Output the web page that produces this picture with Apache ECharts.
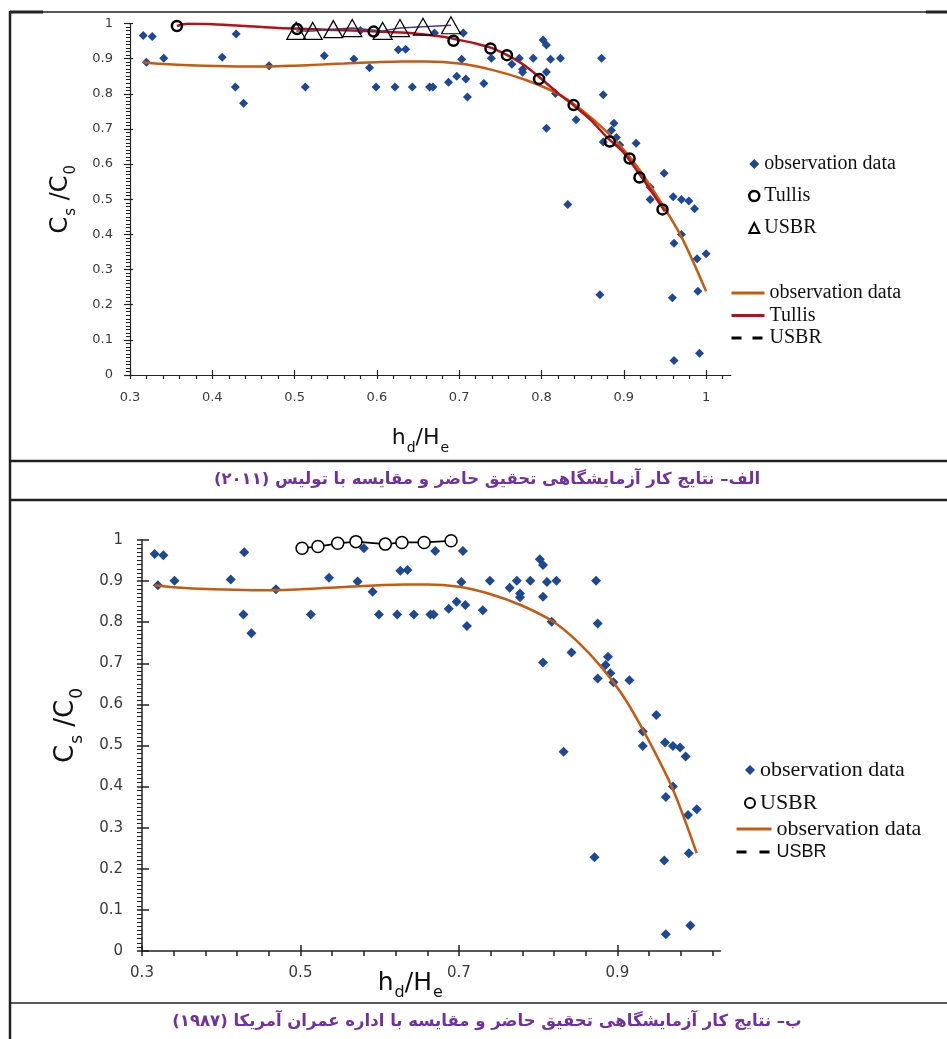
<!DOCTYPE html>
<html><head><meta charset="utf-8">
<script src="https://cdn.jsdelivr.net/npm/echarts@6/dist/echarts.min.js"></script>
<style>html,body{margin:0;padding:0;background:#fff}#c{width:947px;height:1039px}</style>
</head><body><div id="c"></div>
<script>
// ---- observation data (diamonds) ----
const obsX = [0.316,0.327,0.320,0.341,0.412,0.429,0.428,0.438,0.469,0.513,0.536,0.572,0.580,0.591,0.599,0.622,0.626,0.635,0.643,0.664,0.668,0.670,0.687,0.697,0.703,0.705,0.708,0.710,0.730,0.739,0.764,0.773,0.777,0.777,0.790,0.802,0.806,0.806,0.811,0.823,0.817,0.806,0.842,0.832,0.873,0.875,0.888,0.885,0.891,0.875,0.895,0.915,0.949,0.932,0.932,0.960,0.970,0.979,0.986,0.970,0.961,0.989,1.000,0.871,0.959,0.990,0.961,0.992];
const obsY = [0.966,0.963,0.890,0.901,0.904,0.970,0.819,0.773,0.880,0.819,0.908,0.899,0.980,0.874,0.819,0.819,0.925,0.927,0.819,0.819,0.819,0.973,0.833,0.850,0.898,0.973,0.842,0.791,0.829,0.901,0.884,0.901,0.870,0.861,0.901,0.953,0.939,0.862,0.898,0.901,0.801,0.702,0.726,0.485,0.901,0.797,0.716,0.696,0.676,0.663,0.654,0.659,0.574,0.534,0.499,0.507,0.499,0.495,0.473,0.400,0.375,0.331,0.345,0.228,0.220,0.238,0.041,0.062];
// ---- fitted curve of observation data ----
const fitX = [0.316,0.34,0.39,0.44,0.47,0.50,0.53,0.56,0.60,0.63,0.66,0.70,0.74,0.78,0.82,0.85,0.88,0.91,0.94,0.97,1.0];
const fitY = [0.890,0.885,0.880,0.878,0.878,0.880,0.883,0.886,0.890,0.892,0.892,0.886,0.868,0.840,0.800,0.752,0.690,0.612,0.510,0.393,0.238];
// ---- Tullis (2011) ----
const tullisX = [0.357,0.503,0.596,0.693,0.738,0.758,0.797,0.839,0.883,0.907,0.919,0.947];
const tullisY = [0.993,0.984,0.977,0.951,0.929,0.910,0.842,0.768,0.664,0.616,0.562,0.471];
const tullisCurveX = [0.357,0.37,0.40,0.44,0.48,0.52,0.56,0.60,0.64,0.68,0.70,0.72,0.74,0.76,0.78,0.80,0.82,0.84,0.86,0.88,0.90,0.92,0.94,0.95];
const tullisCurveY = [0.993,0.999,0.998,0.993,0.987,0.984,0.981,0.977,0.973,0.962,0.953,0.943,0.930,0.908,0.880,0.842,0.802,0.765,0.725,0.675,0.632,0.568,0.500,0.466];
// ---- USBR (1987) ----
const usbrX = [0.502,0.522,0.547,0.570,0.607,0.628,0.656,0.690];
const usbrTopY = [0.979,0.979,0.984,0.987,0.979,0.987,0.991,0.995];
const usbrBotY = [0.980,0.984,0.992,0.996,0.990,0.994,0.994,0.998];
// ---- tick labels ----
const topXLabels = [0.3,0.4,0.5,0.6,0.7,0.8,0.9,1];
const botXLabels = [0.3,0.5,0.7,0.9];
const topXTicks = []; for (let i = 0; i <= 36; i++) topXTicks.push(+(0.3 + 0.02 * i).toFixed(2));
const botXTicks = []; for (let i = 0; i <= 18; i++) botXTicks.push(+(0.3 + 0.04 * i).toFixed(2));
const legendNames = {obsTop:'observation data', tullisPts:'Tullis', usbrTri:'USBR', obsLineTop:'observation data', tullisLine:'Tullis', usbrLineTop:'USBR',
  obsBot:'observation data', usbrBotPts:'USBR', obsLineBot:'observation data', usbrLineBot:'USBR'};
const captionTop = 'الف– نتایج کار آزمایشگاهی تحقیق حاضر و مقایسه با تولیس (۲۰۱۱)';
const captionBottom = 'ب– نتایج کار آزمایشگاهی تحقیق حاضر و مقایسه با اداره عمران آمریکا (۱۹۸۷)';

const pts = (xs, ys) => xs.map((x, i) => [x, ys[i]]);
const fmt = v => String(+(+v).toFixed(2));
const AX = '#222';
const LBL = '#3a3a3a';
const FONT = 'DejaVu Sans';
const NOSYM = {color: 'rgba(0,0,0,0)', borderColor: 'rgba(0,0,0,0)', borderWidth: 0};

function richName(big, small, drop) {
  return {
    a: {fontFamily: FONT, fontSize: big, lineHeight: big + 6, color: '#111', verticalAlign: 'top'},
    b: {fontFamily: FONT, fontSize: small, lineHeight: small, color: '#111', verticalAlign: 'top', padding: [drop, 0, 0, 1]}
  };
}

const chart = echarts.init(document.getElementById('c'), null, {renderer: 'canvas'});

const option = {
  animation: false,
  backgroundColor: '#fff',
  grid: [
    {left: 130, top: 23.5, width: 600.8, height: 351.5},
    {left: 142, top: 540, width: 578.5, height: 411}
  ],
  xAxis: [
    {gridIndex: 0, type: 'value', min: 0.3, max: 1.03, position: 'bottom',
      axisLine: {onZero: false, lineStyle: {color: AX, width: 1.2}},
      axisTick: {customValues: topXTicks, length: 4, lineStyle: {color: AX, width: 1.2}},
      axisLabel: {customValues: topXLabels, formatter: fmt, fontFamily: FONT, fontSize: 13, color: LBL, margin: 16},
      splitLine: {show: false},
      name: '{a|h}{b|d}{a|/H}{b|e}', nameLocation: 'middle', nameGap: 52, nameMoveOverlap: false,
      nameTextStyle: {padding: [0, 20, 0, 0], rich: richName(22, 14, 14)}},
    {gridIndex: 0, type: 'value', min: 0.3, max: 1.03, position: 'bottom',
      axisLine: {show: false, onZero: false},
      axisTick: {customValues: topXLabels, inside: true, length: 5, lineStyle: {color: AX, width: 1.2}},
      axisLabel: {show: false}, splitLine: {show: false}},
    {gridIndex: 1, type: 'value', min: 0.3, max: 1.03, position: 'bottom',
      axisLine: {onZero: false, lineStyle: {color: AX, width: 1.5}},
      axisTick: {customValues: botXTicks, length: 5, lineStyle: {color: AX, width: 1.5}},
      axisLabel: {customValues: botXLabels, formatter: fmt, fontFamily: FONT, fontSize: 15, color: LBL, margin: 15},
      splitLine: {show: false},
      name: '{a|h}{b|d}{a|/H}{b|e}', nameLocation: 'middle', nameGap: 20, nameMoveOverlap: false,
      nameTextStyle: {padding: [0, 42, 0, 0], rich: richName(25, 16, 14)}},
    {gridIndex: 1, type: 'value', min: 0.3, max: 1.03, position: 'bottom',
      axisLine: {show: false, onZero: false},
      axisTick: {customValues: botXLabels, inside: true, length: 6, lineStyle: {color: AX, width: 1.5}},
      axisLabel: {show: false}, splitLine: {show: false}}
  ],
  yAxis: [
    {gridIndex: 0, type: 'value', min: 0, max: 1, interval: 0.1, position: 'left',
      axisLine: {show: true, onZero: false, lineStyle: {color: AX, width: 1.2}},
      axisTick: {show: true, length: 6, lineStyle: {color: AX, width: 1.2}},
      minorTick: {show: true, splitNumber: 10, length: 4, lineStyle: {color: AX, width: 1}},
      axisLabel: {formatter: fmt, fontFamily: FONT, fontSize: 13, color: LBL, margin: 17},
      splitLine: {show: false},
      name: '{a|C}{b|s}{a| /C}{b|0}', nameLocation: 'middle', nameRotate: 90, nameGap: 51, nameMoveOverlap: false,
      nameTextStyle: {rich: richName(24, 15, 15)}},
    {gridIndex: 0, type: 'value', min: 0, max: 1, interval: 0.1, position: 'left',
      axisLine: {show: false, onZero: false},
      axisTick: {show: true, inside: true, length: 3, lineStyle: {color: AX, width: 1.2}},
      axisLabel: {show: false}, splitLine: {show: false}},
    {gridIndex: 1, type: 'value', min: 0, max: 1, interval: 0.1, position: 'left',
      axisLine: {show: true, onZero: false, lineStyle: {color: AX, width: 1.5}},
      axisTick: {show: true, length: 5, lineStyle: {color: AX, width: 1.5}},
      minorTick: {show: true, splitNumber: 10, length: 5, lineStyle: {color: AX, width: 1}},
      axisLabel: {formatter: fmt, fontFamily: FONT, fontSize: 15, color: LBL, margin: 19},
      splitLine: {show: false},
      name: '{a|C}{b|s}{a| /C}{b|0}', nameLocation: 'middle', nameRotate: 90, nameGap: 57, nameMoveOverlap: false,
      nameTextStyle: {padding: [0, 0, 0, 40], rich: richName(26, 17, 16)}},
    {gridIndex: 1, type: 'value', min: 0, max: 1, interval: 0.1, position: 'left',
      axisLine: {show: false, onZero: false},
      axisTick: {show: true, inside: true, length: 7, lineStyle: {color: AX, width: 1.5}},
      axisLabel: {show: false}, splitLine: {show: false}}
  ],
  legend: [
    {orient: 'vertical', left: 748, top: 154, padding: 0, itemGap: 12, itemWidth: 10, itemHeight: 10, selectedMode: false,
      data: ['obsTop', {name: 'tullisPts', itemStyle: {borderWidth: 2.5, borderColor: '#000'}}, 'usbrTri'], formatter: n => legendNames[n],
      textStyle: {fontFamily: 'Liberation Serif', fontSize: 20, lineHeight: 20, color: '#111'}},
    {orient: 'vertical', left: 730, top: 283, padding: 0, itemGap: 2.5, itemWidth: 33, itemHeight: 14, selectedMode: false,
      data: [
        {name: 'obsLineTop', lineStyle: {width: 3}, itemStyle: NOSYM},
        {name: 'tullisLine', lineStyle: {width: 3}, itemStyle: NOSYM},
        {name: 'usbrLineTop', lineStyle: {width: 3, color: '#000', type: [10, 11]}, itemStyle: NOSYM}
      ], formatter: n => legendNames[n],
      textStyle: {fontFamily: 'Liberation Serif', fontSize: 20, lineHeight: 20, color: '#111'}},
    {orient: 'vertical', left: 744, top: 759, padding: 0, itemGap: 11, itemWidth: 10, itemHeight: 10, selectedMode: false,
      data: ['obsBot', 'usbrBotPts'], formatter: n => legendNames[n],
      textStyle: {fontFamily: 'Liberation Serif', fontSize: 22, lineHeight: 22, color: '#111'}},
    {orient: 'vertical', left: 735, top: 818, padding: 0, itemGap: 1, itemWidth: 35, itemHeight: 14, selectedMode: false,
      data: [
        {name: 'obsLineBot', lineStyle: {width: 3}, itemStyle: NOSYM},
        {name: 'usbrLineBot', lineStyle: {width: 3, color: '#000', type: [10, 13]}, itemStyle: NOSYM, textStyle: {fontFamily: 'Liberation Sans', fontSize: 18}}
      ], formatter: n => legendNames[n],
      textStyle: {fontFamily: 'Liberation Serif', fontSize: 22, lineHeight: 22, color: '#111'}}
  ],
  series: [
    {name: 'obsTop', type: 'scatter', xAxisIndex: 0, yAxisIndex: 0, data: pts(obsX, obsY),
      symbol: 'diamond', symbolSize: 9, itemStyle: {color: '#1d4893', opacity: 1}, z: 2},
    {name: 'obsLineTop', type: 'line', xAxisIndex: 0, yAxisIndex: 0, data: pts(fitX, fitY), smooth: 0.3,
      symbol: 'none', lineStyle: {color: '#c55a11', width: 2.5}, itemStyle: {color: '#c55a11'}, z: 3},
    {name: 'tullisLine', type: 'line', xAxisIndex: 0, yAxisIndex: 0, data: pts(tullisCurveX, tullisCurveY), smooth: 0.3,
      symbol: 'none', lineStyle: {color: '#b3121c', width: 2.5}, itemStyle: {color: '#9b1018'}, z: 4},
    {name: 'usbrLineTop', type: 'line', xAxisIndex: 0, yAxisIndex: 0, data: pts(usbrX, usbrTopY),
      symbol: 'none', lineStyle: {color: '#4a3a8c', width: 1.5}, itemStyle: {color: '#000'}, z: 4},
    {name: 'tullisPts', type: 'scatter', xAxisIndex: 0, yAxisIndex: 0, data: pts(tullisX, tullisY),
      symbol: 'circle', symbolSize: 10, itemStyle: {color: 'rgba(255,255,255,0)', borderColor: '#000', borderWidth: 2.5, opacity: 1}, z: 5},
    {name: 'usbrTri', type: 'scatter', xAxisIndex: 0, yAxisIndex: 0, data: pts(usbrX, usbrTopY),
      symbol: 'triangle', symbolSize: [19, 17], itemStyle: {color: 'rgba(255,255,255,0)', borderColor: '#000', borderWidth: 1.2, opacity: 1}, z: 5},

    {name: 'obsBot', type: 'scatter', xAxisIndex: 2, yAxisIndex: 2, data: pts(obsX, obsY),
      symbol: 'diamond', symbolSize: 10, itemStyle: {color: '#1d4893', opacity: 1}, z: 2},
    {name: 'obsLineBot', type: 'line', xAxisIndex: 2, yAxisIndex: 2, data: pts(fitX, fitY), smooth: 0.3,
      symbol: 'none', lineStyle: {color: '#c55a11', width: 2.5}, itemStyle: {color: '#c55a11'}, z: 3},
    {name: 'usbrLineBot', type: 'line', xAxisIndex: 2, yAxisIndex: 2, data: pts(usbrX, usbrBotY),
      symbol: 'none', lineStyle: {color: '#000', width: 1.8}, itemStyle: {color: '#000'}, z: 4},
    {name: 'usbrBotPts', type: 'scatter', xAxisIndex: 2, yAxisIndex: 2, data: pts(usbrX, usbrBotY),
      symbol: 'circle', symbolSize: 12, itemStyle: {color: '#fff', borderColor: '#000', borderWidth: 1.5, opacity: 1}, z: 5}
  ],
  graphic: [
    {type: 'line', shape: {x1: 10, y1: 12, x2: 947, y2: 12}, style: {stroke: '#222', lineWidth: 1.5}},
    {type: 'line', shape: {x1: 10, y1: 12, x2: 43, y2: 12}, style: {stroke: '#222', lineWidth: 3}},
    {type: 'line', shape: {x1: 926, y1: 12, x2: 947, y2: 12}, style: {stroke: '#222', lineWidth: 3}},
    {type: 'line', shape: {x1: 10, y1: 11, x2: 10, y2: 1039}, style: {stroke: '#222', lineWidth: 2.5}},
    {type: 'line', shape: {x1: 10, y1: 461, x2: 947, y2: 461}, style: {stroke: '#222', lineWidth: 2.5}},
    {type: 'line', shape: {x1: 10, y1: 500, x2: 947, y2: 500}, style: {stroke: '#222', lineWidth: 2.5}},
    {type: 'line', shape: {x1: 10, y1: 1003, x2: 947, y2: 1003}, style: {stroke: '#222', lineWidth: 1.5}},
    {type: 'text', x: 487, y: 480, style: {text: '\u202B' + captionTop + '\u202C', fill: '#7030a0',
      font: 'bold 16.5px "DejaVu Sans"', align: 'center', verticalAlign: 'middle'}},
    {type: 'text', x: 487, y: 1022, style: {text: '\u202B' + captionBottom + '\u202C', fill: '#7030a0',
      font: 'bold 16.5px "DejaVu Sans"', align: 'center', verticalAlign: 'middle'}}
  ]
};
chart.setOption(option);
</script>
</body></html>
